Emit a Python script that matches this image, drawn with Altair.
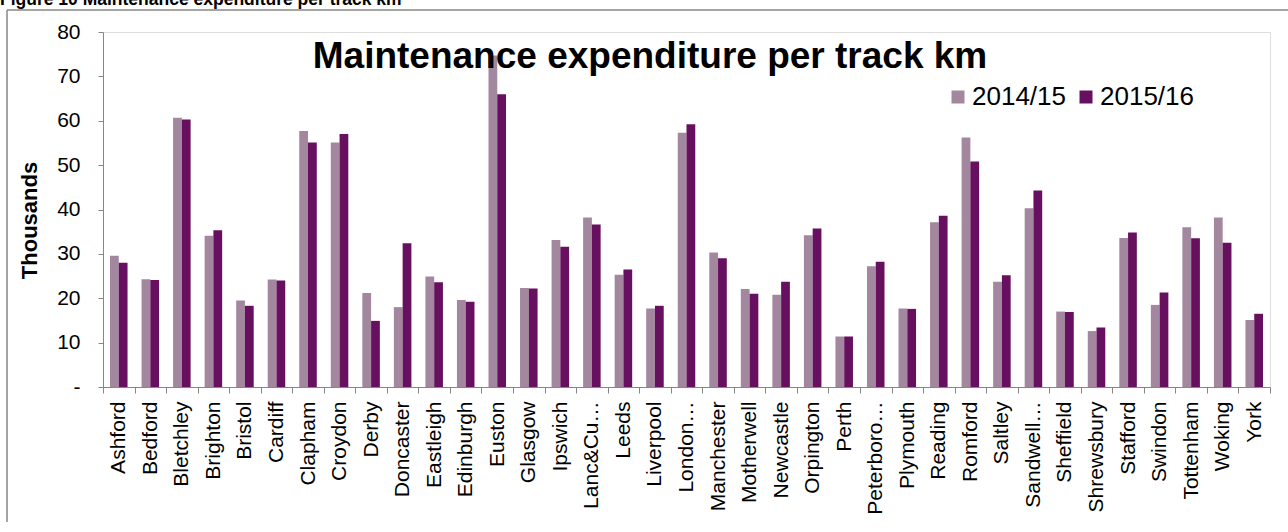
import altair as alt
import pandas as pd

depots = ["Ashford", "Bedford", "Bletchley", "Brighton", "Bristol", "Cardiff", "Clapham",
          "Croydon", "Derby", "Doncaster", "Eastleigh", "Edinburgh", "Euston", "Glasgow",
          "Ipswich", "Lanc&Cu…", "Leeds", "Liverpool", "London…", "Manchester", "Motherwell",
          "Newcastle", "Orpington", "Perth", "Peterboro…", "Plymouth", "Reading", "Romford",
          "Saltley", "Sandwell…", "Sheffield", "Shrewsbury", "Stafford", "Swindon",
          "Tottenham", "Woking", "York"]

y2014 = [29.6, 24.3, 60.7, 34.1, 19.5, 24.2, 57.7, 55.1, 21.2, 18.0, 24.9, 19.6, 74.7, 22.3,
         33.1, 38.2, 25.3, 17.7, 57.3, 30.3, 22.1, 20.8, 34.2, 11.4, 27.2, 17.7, 37.1, 56.2,
         23.7, 40.3, 17.0, 12.6, 33.6, 18.5, 36.0, 38.2, 15.1]
y2015 = [28.0, 24.1, 60.3, 35.3, 18.3, 24.0, 55.1, 57.0, 14.9, 32.4, 23.6, 19.2, 66.0, 22.2,
         31.6, 36.6, 26.5, 18.3, 59.2, 29.0, 21.0, 23.7, 35.7, 11.4, 28.2, 17.6, 38.6, 50.8,
         25.2, 44.3, 16.9, 13.4, 34.8, 21.3, 33.5, 32.5, 16.5]

series = ["2014/15", "2015/16"]
colors = ["#A3879F", "#66105F"]

fig_title = "Figure 10 Maintenance expenditure per track km"
chart_title = "Maintenance expenditure per track km"

rows = []
for d, a, b in zip(depots, y2014, y2015):
    rows.append({"depot": d, "year": series[0], "value": a})
    rows.append({"depot": d, "year": series[1], "value": b})
df = pd.DataFrame(rows)

FONT = "Liberation Sans"
W, H = 1167, 355

bars = alt.Chart(df).mark_bar().encode(
    x=alt.X("depot:N", sort=depots,
            scale=alt.Scale(paddingInner=0, paddingOuter=0),
            axis=alt.Axis(title=None, labelAngle=-90, labelAlign="right", labelBaseline="middle",
                          labelFont=FONT, labelFontSize=21, labelColor="#000000",
                          labelPadding=8, tickBand="extent", tickSize=6, tickColor="#868686",
                          domainColor="#868686", labelOverlap=False, labelLimit=0)),
    xOffset=alt.XOffset("year:N", sort=series,
                        scale=alt.Scale(paddingInner=0, paddingOuter=0.8)),
    y=alt.Y("value:Q", scale=alt.Scale(domain=[0, 80]),
            axis=alt.Axis(values=[0, 10, 20, 30, 40, 50, 60, 70, 80],
                          labelExpr="datum.value == 0 ? '-' : datum.label",
                          labelFont=FONT, labelFontSize=21, labelColor="#000000",
                          labelPadding=18, tickSize=5, tickColor="#868686",
                          domainColor="#868686", grid=False,
                          title="Thousands", titleFont=FONT, titleFontSize=22,
                          titleFontWeight="bold", titleColor="#000000",
                          titleAngle=-90, titleX=-74, titleY=188, titleAlign="center",
                          titleBaseline="middle")),
    color=alt.Color("year:N", sort=series,
                    scale=alt.Scale(domain=series, range=colors),
                    legend=alt.Legend(title=None, orient="none", direction="horizontal",
                                      legendX=842, legendY=52, symbolType="square",
                                      symbolSize=169, symbolStrokeWidth=0,
                                      labelFont=FONT, labelFontSize=26, labelColor="#000000",
                                      labelOffset=1, columnPadding=7, padding=0)),
)

title_df = pd.DataFrame({"t": [chart_title]})
title_txt = alt.Chart(title_df).mark_text(
    font=FONT, fontSize=37, fontWeight="bold", color="#000000",
    align="center", baseline="alphabetic"
).encode(text="t:N", x=alt.value(547), y=alt.value(36))

fig_df = pd.DataFrame({"t": [fig_title]})
fig_txt = alt.Chart(fig_df).mark_text(
    font=FONT, fontSize=17.5, fontWeight="bold", color="#000000",
    align="left", baseline="alphabetic"
).encode(text="t:N", x=alt.value(-103), y=alt.value(-27))

border_top = alt.Chart(fig_df).mark_rule(stroke="#878787", strokeWidth=1.5).encode(
    x=alt.value(-96), x2=alt.value(1400), y=alt.value(-22)
)
border_left = alt.Chart(fig_df).mark_rule(stroke="#878787", strokeWidth=1.5).encode(
    x=alt.value(-96), y=alt.value(-22), y2=alt.value(600)
)

chart = alt.layer(border_top, border_left, bars, title_txt, fig_txt).properties(
    width=W, height=H,
    autosize=alt.AutoSizeParams(type="none"),
    padding={"left": 103, "top": 32, "right": 18, "bottom": 135},
).configure_view(stroke=None).configure(background="#ffffff")

chart.save("out.html", embed_options={"renderer": "svg", "actions": False})
